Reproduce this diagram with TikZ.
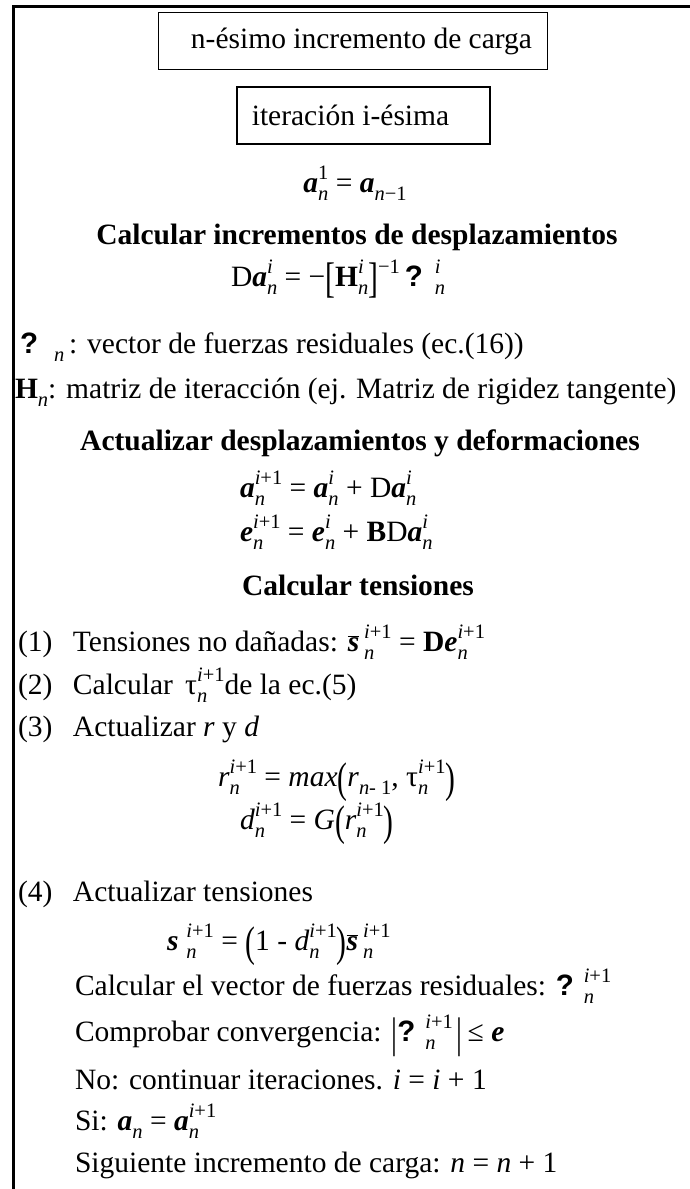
\documentclass[tikz,border=0pt]{standalone}
\usepackage{graphicx}
\usepackage{fontspec}
\setmainfont{Liberation Serif}
\newfontfamily\qfont{Liberation Sans}
\newcommand\body{\fontsize{29.5}{35}\selectfont}
\newcommand\sfs{\fontsize{20.5}{20.5}\selectfont}
\newcommand\bi[1]{\textbf{\textit{#1}}}
\newcommand\ii[1]{\textit{#1}}
\newcommand\qm{{\qfont\bfseries ?}}
\newcommand\Xss[2]{\mbox{\ooalign{\raisebox{13pt}{\sfs #1}\cr\raisebox{-8pt}{\sfs #2}\cr}}}
\newcommand\Xsp[1]{\raisebox{13pt}{\sfs #1}}
\newcommand\Xsb[1]{\raisebox{-8pt}{\sfs #1}}
\newcommand\Xbp[1]{\raisebox{-6pt}{\scalebox{1}[1.45]{#1}}}
\newcommand\ov[1]{$\overline{\hbox{#1}}$}
\newcommand\ipo{\ii{i}+1}
\tikzset{
  txt/.style={inner sep=0pt, outer sep=0pt, font=\body},
  hd/.style={txt, font=\body\bfseries},
  boxn/.style={draw, line width=1.3pt, inner sep=0pt, font=\body},
  frame/.style={line width=2.6pt, line join=miter},
}
\begin{document}
\begin{tikzpicture}[x=1pt,y=-1pt]
\useasboundingbox (0,0) rectangle (690,1189);
\coordinate (fb) at (13.5,1189);
\coordinate (ftl) at (13.5,6.5);
\coordinate (ftr) at (690,6.5);
\draw[frame] (fb) -- (ftl) -- (ftr);

\node[boxn, minimum width=389pt, minimum height=57pt] (b1) at (353,41) {\hspace*{17pt}n-ésimo incremento de carga};
\node[boxn, minimum width=253pt, minimum height=57pt] (b2) at (363.5,115.5) {iteración i-ésima\hspace*{26pt}};

\node[txt, anchor=base] (e0) at (355,192) {\bi{a}\Xss{1}{\ii{n}} = \bi{a}\Xsb{\ii{n}−1}};
\node[hd, anchor=base] (h1) at (357,244) {Calcular incrementos de desplazamientos};
\node[txt, anchor=base west] (e1) at (231,286) {D\bi{a}\Xss{\ii{i}}{\ii{n}} = −\Xbp{[}\textbf{H}\Xss{\ii{i}}{\ii{n}}\Xbp{]}\Xsp{−1}\,\qm\hspace{12pt}\Xss{\ii{i}}{\ii{n}}};
\node[txt, anchor=base west] (l1) at (20,353) {\qm\hspace{16pt}\Xsb{\ii{n}}\,: vector de fuerzas residuales (ec.(16))};
\node[txt, anchor=base west] (l2) at (15,398) {\textbf{H}\Xsb{\ii{n}}: matriz de iteracción (ej. Matriz de rigidez tangente)};

\node[hd, anchor=base] (h2) at (360,450) {Actualizar desplazamientos y deformaciones};
\node[txt, anchor=base west] (e2) at (240,497) {\bi{a}\Xss{\ipo}{\ii{n}} = \bi{a}\Xss{\ii{i}}{\ii{n}} + D\bi{a}\Xss{\ii{i}}{\ii{n}}};
\node[txt, anchor=base west] (e3) at (240,541) {\bi{e}\Xss{\ipo}{\ii{n}} = \bi{e}\Xss{\ii{i}}{\ii{n}} + \textbf{B}D\bi{a}\Xss{\ii{i}}{\ii{n}}};

\node[hd, anchor=base] (h3) at (358,595) {Calcular tensiones};
\node[txt, anchor=base west] (s1) at (18,651) {\makebox[55pt][l]{(1)}Tensiones no dañadas: \ov{\bi{s}}\,\Xss{\ipo}{\ii{n}} = \textbf{D}\bi{e}\Xss{\ipo}{\ii{n}}};
\node[txt, anchor=base west] (s2) at (18,694) {\makebox[55pt][l]{(2)}Calcular \,τ\Xss{\ipo}{\ii{n}}de la ec.(5)};
\node[txt, anchor=base west] (s3) at (18,736) {\makebox[55pt][l]{(3)}Actualizar \ii{r} y \ii{d}};
\node[txt, anchor=base west] (e4) at (218,786) {\ii{r}\Xss{\ipo}{\ii{n}} = \ii{max}\Xbp{(}\ii{r}\Xsb{\ii{n}- 1}, τ\Xss{\ipo}{\ii{n}}\Xbp{)}};
\node[txt, anchor=base west] (e5) at (240,829) {\ii{d}\Xss{\ipo}{\ii{n}} = \ii{G}\Xbp{(}\ii{r}\Xss{\ipo}{\ii{n}}\Xbp{)}};
\node[txt, anchor=base west] (s4) at (18,901) {\makebox[55pt][l]{(4)}Actualizar tensiones};
\node[txt, anchor=base west] (e6) at (167,950) {\bi{s}\hspace{8pt}\Xss{\ipo}{\ii{n}} = \Xbp{(}1 -\ \ii{d}\Xss{\ipo}{\ii{n}}\Xbp{)}\ov{\bi{s}}\,\Xss{\ipo}{\ii{n}}};

\node[txt, anchor=base west] (c1) at (75,995) {Calcular el vector de fuerzas residuales: \qm\hspace{10pt}\Xss{\ipo}{\ii{n}}};
\node[txt, anchor=base west] (c2) at (75,1041) {Comprobar convergencia: \Xbp{|}\qm\hspace{10pt}\Xss{\ipo}{\ii{n}}\hspace{4pt}\Xbp{|}\,≤ \bi{e}};
\node[txt, anchor=base west] (c3) at (75,1089) {No: continuar iteraciones. \ii{i} = \ii{i} + 1};
\node[txt, anchor=base west] (c4) at (75,1130) {Si: \bi{a}\Xsb{\ii{n}} = \bi{a}\Xss{\ipo}{\ii{n}}};
\node[txt, anchor=base west] (c5) at (75,1172) {Siguiente incremento de carga: \ii{n} = \ii{n} + 1};
\end{tikzpicture}
\end{document}
